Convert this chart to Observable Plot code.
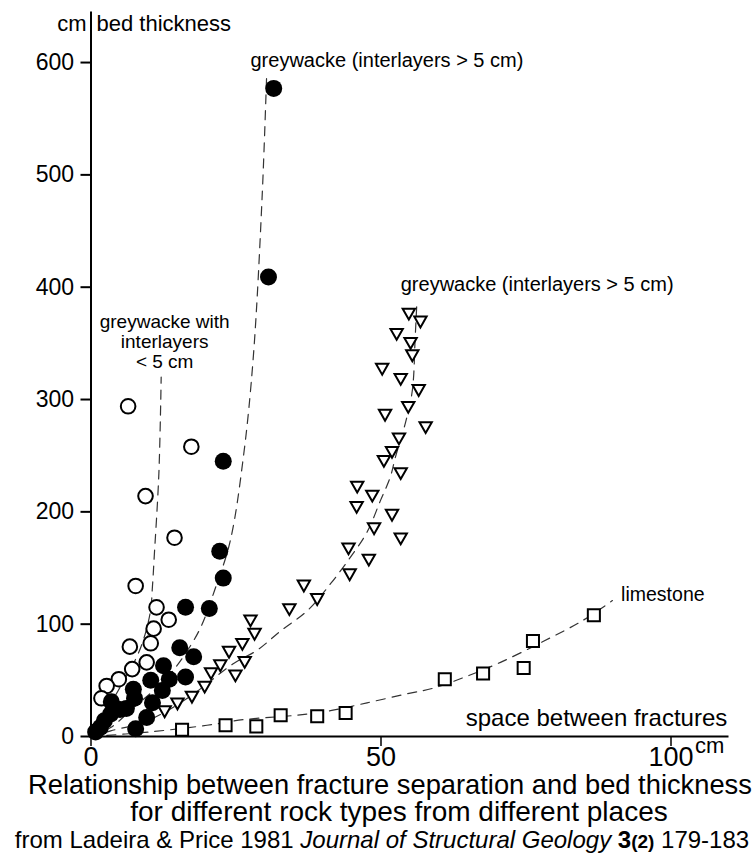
<!DOCTYPE html>
<html><head><meta charset="utf-8">
<script src="https://cdn.jsdelivr.net/npm/d3@7"></script>
<script src="https://cdn.jsdelivr.net/npm/@observablehq/plot@0.6"></script>
<style>
body{margin:0;background:#fff;font-family:"Liberation Sans",Arial,sans-serif;}
#wrap{position:relative;width:756px;height:855px;overflow:hidden;background:#fff;}
.cap{position:absolute;width:756px;text-align:center;white-space:nowrap;color:#000;}
</style></head><body>
<div id="wrap"><div id="chart"></div>
<div class="cap" style="left:12px;top:772px;font-size:27.3px;line-height:26px;">Relationship between fracture separation and bed thickness</div>
<div class="cap" style="left:21px;top:799px;font-size:28px;line-height:26px;">for different rock types from different places</div>
<div class="cap" style="left:4px;top:828px;font-size:24px;line-height:24px;">from Ladeira &amp; Price 1981 <i>Journal of Structural Geology</i> <b>3<span style="font-size:19px">(2)</span></b> 179-183</div>
</div>
<script>
const yTicks = [0, 100, 200, 300, 400, 500, 600];
const xTicks = [0, 50, 100];

// greywacke (interlayers > 5 cm) - filled circles
const filledCircles = [[31.5,577],[30.6,409],[22.8,245],[22.2,165],[22.8,141],[16.3,115],[20.4,114],[15.3,79],[17.7,71],[16.3,53],[12.5,63],[10.3,50],[13.5,51],[12.3,41],[7.3,42],[10.6,30],[7.5,34],[3.5,31],[6.1,25],[9.6,17],[7.7,7],[3.4,20],[2.3,14],[1.6,8],[5.0,24],[0.8,4]];
// greywacke with interlayers < 5 cm - open circles
const openCircles = [[6.4,294],[17.3,258],[9.4,214],[14.4,177],[7.7,134],[11.3,115],[13.4,104],[10.8,96],[10.3,83],[6.7,80],[9.6,66],[7.1,60],[4.8,51],[2.7,45],[1.8,34]];
// greywacke (interlayers > 5 cm) - triangles
const triangles = [[54.8,376],[56.8,369],[52.7,358],[55.1,350],[55.4,339],[50.2,327],[53.4,318],[56.5,308],[54.7,293],[50.7,286],[57.7,275],[53.1,265],[51.9,253],[50.5,245],[53.4,234],[45.9,222],[48.5,214],[45.8,204],[51.9,197],[48.8,185],[53.4,176],[44.4,167],[47.9,157],[44.6,144],[36.7,134],[39.0,122],[34.2,113],[27.5,103],[28.2,91],[26.1,82],[23.8,75],[26.5,66],[22.3,63],[24.9,54],[20.7,56],[19.6,44],[17.4,35],[14.9,29],[12.7,22]];
// limestone - squares
const squares = [[86.7,108],[76.2,85],[74.6,61],[67.6,56],[61.0,51],[43.9,21],[39.0,18],[32.7,19],[28.5,9],[23.2,10],[15.7,6]];

// dashed trend curves
const curveFilled = [[0,0],[3.4,8],[7.4,26],[10.8,41],[13.7,56],[16.3,74],[18.9,97],[21.3,130],[24,174],[26.3,250],[28,339],[29.5,480],[30.3,591]];
const curveOpen = [[0,0],[4.7,41],[8.4,77],[10.2,110],[10.6,134],[10.9,160],[11.7,234],[12.1,320]];
const curveTriangle = [[0,0],[3.4,5],[9.7,14],[16.6,34],[24.6,65],[28.7,77],[32.7,94],[37.3,112],[41.3,136],[44.5,158],[47.6,182],[49.9,210],[51.6,231],[52.5,249],[54.2,279],[55.4,308],[55.9,356],[56.2,388]];
const curveSquare = [[0,0],[10,4],[20,10],[26.3,15],[35.5,19],[41.3,23],[47.6,30],[54.5,38],[59,43],[64.5,53],[70.6,66],[78.1,85],[84.7,103],[89.9,121]];

const labelTopGrey = [{x: 27.5, y: 601.8, text: "greywacke (interlayers > 5 cm)"}];
const labelRightGrey = [{x: 53.4, y: 402.7, text: "greywacke (interlayers > 5 cm)"}];
const labelThin = [{x: 12.7, y: 351.6, text: "greywacke with\ninterlayers\n< 5 cm"}];
const labelLime = [{x: 91.4, y: 126.6, text: "limestone"}];
const labelXAxis = [{x: 109.7, y: 16.6, text: "space between fractures"}];

const downTriangle = {
  draw(context, size) {
    const r = Math.sqrt(size / Math.PI);
    const w = 0.95 * r, h = 0.835 * r;
    context.moveTo(0, h);
    context.lineTo(-w, -h);
    context.lineTo(w, -h);
    context.closePath();
  }
};

const X = d => d[0], Y = d => d[1];
const dash = {x: X, y: Y, stroke: "#333", strokeWidth: 1.2, strokeDasharray: "9,7", curve: "catmull-rom"};

const chart = Plot.plot({
  width: 756, height: 770,
  marginLeft: 90.5, marginRight: 27.5, marginTop: 11.5, marginBottom: 34,
  x: {domain: [0, 110]},
  y: {domain: [0, 645]},
  style: {fontFamily: "Liberation Sans, Arial, sans-serif", color: "black", background: "white", overflow: "visible"},
  marks: [
    Plot.line(curveFilled, dash),
    Plot.line(curveOpen, dash),
    Plot.line(curveTriangle, dash),
    Plot.line(curveSquare, dash),
    Plot.ruleX([0], {stroke: "black", strokeWidth: 2}),
    Plot.ruleY([0], {stroke: "black", strokeWidth: 2}),
    Plot.axisY({ticks: yTicks, tickSize: 10, tickPadding: 7, fontSize: 23, strokeWidth: 2, label: null}),
    Plot.axisX({ticks: xTicks, tickSize: 10, tickPadding: 0, fontSize: 27, strokeWidth: 1.5, label: null}),
    Plot.dot(openCircles, {x: X, y: Y, r: 7.3, fill: "white", stroke: "black", strokeWidth: 2}),
    Plot.dot(filledCircles, {x: X, y: Y, r: 8.5, fill: "black", stroke: "none"}),
    Plot.dot(triangles, {x: X, y: Y, r: 6.5, symbol: downTriangle, fill: "white", stroke: "black", strokeWidth: 2}),
    Plot.dot(squares, {x: X, y: Y, r: 6.8, symbol: "square", fill: "white", stroke: "black", strokeWidth: 2}),
    Plot.text(labelTopGrey, {x: "x", y: "y", text: "text", textAnchor: "start", lineAnchor: "middle", fontSize: 20}),
    Plot.text(labelRightGrey, {x: "x", y: "y", text: "text", textAnchor: "start", lineAnchor: "middle", fontSize: 20}),
    Plot.text(labelThin, {x: "x", y: "y", text: "text", textAnchor: "middle", lineAnchor: "middle", fontSize: 19, lineHeight: 1.05}),
    Plot.text(labelLime, {x: "x", y: "y", text: "text", textAnchor: "start", lineAnchor: "middle", fontSize: 19.5}),
    Plot.text(labelXAxis, {x: "x", y: "y", text: "text", textAnchor: "end", lineAnchor: "middle", fontSize: 24}),
    Plot.text(["cm"], {frameAnchor: "top-left", dx: -4.5, dy: 11.5, textAnchor: "end", lineAnchor: "middle", fontSize: 22}),
    Plot.text(["bed thickness"], {frameAnchor: "top-left", dx: 5.5, dy: 11.5, textAnchor: "start", lineAnchor: "middle", fontSize: 22}),
    Plot.text(["cm"], {x: 100, y: 0, dx: 24, dy: 9, textAnchor: "start", lineAnchor: "middle", fontSize: 22})
  ]
});
document.getElementById("chart").appendChild(chart);
</script>
</body></html>
